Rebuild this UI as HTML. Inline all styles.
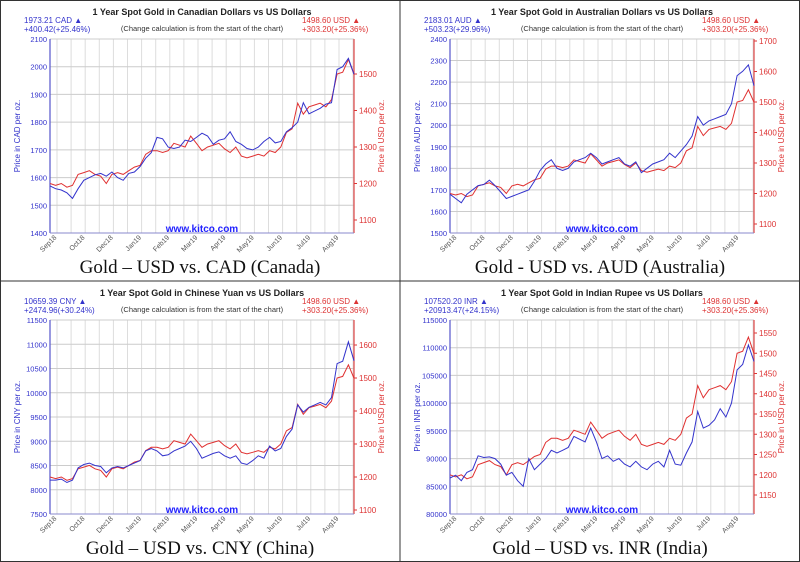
<!DOCTYPE html>
<html><head><meta charset="utf-8"><style>
body{margin:0;background:#fff}
svg{display:block}
.s{font-family:"Liberation Sans",sans-serif}
.cap{font-family:"Liberation Serif",serif}
</style></head><body>
<svg id="c" width="800" height="562" viewBox="0 0 800 562">
<rect x="0.5" y="0.5" width="799" height="561" fill="#fff" stroke="#333"/>
<line x1="400" y1="0" x2="400" y2="562" stroke="#333"/>
<line x1="0" y1="281" x2="800" y2="281" stroke="#333"/>
</svg>
<script>
const months = ["Sep18","Oct18","Dec18","Jan19","Feb19","Mar19","Apr19","May19","Jun19","Jul19","Aug19"];
const usd = [1200,1195,1200,1190,1195,1225,1230,1235,1225,1220,1200,1225,1230,1225,1235,1245,1250,1280,1290,1290,1285,1290,1310,1305,1300,1330,1310,1290,1300,1305,1310,1295,1285,1300,1275,1270,1275,1280,1275,1290,1285,1300,1340,1350,1420,1390,1410,1415,1420,1410,1430,1500,1505,1540,1499];
const cad = [1570,1560,1555,1545,1525,1560,1590,1600,1610,1615,1605,1620,1600,1590,1615,1620,1640,1670,1690,1745,1740,1710,1705,1710,1735,1730,1745,1760,1750,1720,1735,1740,1765,1730,1720,1705,1700,1710,1730,1745,1725,1730,1765,1780,1800,1870,1830,1840,1850,1865,1870,1990,2000,2030,1973];
const aud = [1680,1660,1640,1680,1700,1720,1725,1745,1720,1690,1660,1670,1680,1690,1700,1740,1790,1820,1840,1800,1790,1800,1830,1840,1850,1870,1850,1820,1830,1840,1850,1820,1810,1830,1780,1800,1820,1830,1840,1870,1850,1880,1910,1950,2040,2000,2020,2030,2040,2050,2100,2230,2250,2280,2183];
const cny = [8200,8200,8220,8150,8200,8450,8520,8550,8500,8480,8350,8450,8480,8450,8500,8550,8600,8800,8850,8800,8700,8720,8800,8850,8900,9000,8850,8650,8700,8750,8780,8700,8650,8700,8550,8520,8600,8700,8650,8900,8800,8850,9100,9250,9750,9600,9700,9750,9800,9750,9900,10600,10650,11050,10659];
const inr = [86500,87000,86000,87500,88000,90500,90200,90300,90000,89000,87000,87500,86000,85000,90000,88000,89000,90000,91500,91000,91500,92000,94000,93500,93000,95500,93000,90000,90500,89500,90000,89000,88500,89500,88500,88000,89000,89500,88500,91500,89000,88800,91000,93000,98500,95500,96000,97000,99000,97500,100000,106000,107000,110500,107520];
const cadTicks = [1400,1500,1600,1700,1800,1900,2000,2100];
const audTicks = [1500,1600,1700,1800,1900,2000,2100,2200,2300,2400];
const cnyTicks = [7500,8000,8500,9000,9500,10000,10500,11000,11500];
const inrTicks = [80000,85000,90000,95000,100000,105000,110000,115000];

const panels = [
 {ox:0,oy:0,code:"CAD",name:"Canadian Dollars",vals:cad,lt:cadTicks,lmin:1400,lmax:2100,rt:[1100,1200,1300,1400,1500],ra:[1100,220],rb:[1500,74],
  info1:"1973.21 CAD",info2:"+400.42(+25.46%)",cap:"Gold \u2013 USD vs. CAD (Canada)"},
 {ox:400,oy:0,code:"AUD",name:"Australian Dollars",vals:aud,lt:audTicks,lmin:1500,lmax:2400,rt:[1100,1200,1300,1400,1500,1600,1700],ra:[1100,224],rb:[1700,41],
  info1:"2183.01 AUD",info2:"+503.23(+29.96%)",cap:"Gold - USD vs. AUD (Australia)"},
 {ox:0,oy:281,code:"CNY",name:"Chinese Yuan",vals:cny,lt:cnyTicks,lmin:7500,lmax:11500,rt:[1100,1200,1300,1400,1500,1600],ra:[1100,229],rb:[1600,64],
  info1:"10659.39 CNY",info2:"+2474.96(+30.24%)",cap:"Gold \u2013 USD vs. CNY (China)"},
 {ox:400,oy:281,code:"INR",name:"Indian Rupee",vals:inr,lt:inrTicks,lmin:80000,lmax:115000,rt:[1150,1200,1250,1300,1350,1400,1450,1500,1550],ra:[1150,214],rb:[1550,52],
  info1:"107520.20 INR",info2:"+20913.47(+24.15%)",cap:"Gold \u2013 USD vs. INR (India)"}
];
const svg = document.getElementById('c');
const NS = "http://www.w3.org/2000/svg";
function mk(tag, attrs, parent, txt){
  const e = document.createElementNS(NS, tag);
  for (const k in attrs) e.setAttribute(k, attrs[k]);
  if (tag === 'text' && !attrs['class']) e.setAttribute('class','s');
  if (txt !== undefined) e.textContent = txt;
  parent.appendChild(e);
  return e;
}
panels.forEach(p=>{
  const g = mk('g',{},svg);
  
  
  const x0=p.ox+50, x1=p.ox+354, y0=p.oy+39, y1=p.oy+233;
  const xs = i => x0 + i/(p.vals.length-1)*(x1-x0);
  const yl = v => y1 - (v-p.lmin)/(p.lmax-p.lmin)*(y1-y0);
  const yr = v => p.oy + p.ra[1] + (v-p.ra[0])/(p.rb[0]-p.ra[0])*(p.rb[1]-p.ra[1]);
  const bg = mk('rect',{x:x0,y:y0,width:x1-x0,height:y1-y0,fill:'#fff'},g);
  
  
  for(let gx=x0+7; gx<x1; gx+=14.1){
    const l = mk('line',{x1:gx,y1:y0,x2:gx,y2:y1,stroke:'#ddd','stroke-width':1},g);
    
    
  }
  p.lt.forEach((t,k)=>{
    const y=yl(t);
    const l = mk('line',{x1:x0,y1:y,x2:x1,y2:y,stroke:'#ccc','stroke-width':1},g);
    
    
    const tx = mk('text',{x:x0-3,y:y+3,'font-size':7.5,fill:'#33c','text-anchor':'end'},g,t);
    
    
  });
  p.rt.forEach(t=>{
    const y=yr(t);
    const l = mk('line',{x1:x1,y1:y,x2:x1+3,y2:y,stroke:'#d33','stroke-width':1},g);
    
    
    const tx = mk('text',{x:x1+5,y:y+3,'font-size':8,fill:'#d33'},g,t);
    
    
  });
  months.forEach((m,k)=>{
    const tx0 = x0+7+k*28.2;
    const tx = mk('text',{x:tx0,y:y1+5,'font-size':7,fill:'#555','text-anchor':'end',transform:`rotate(-45 ${tx0} ${y1+5})`},g,m);
    
    
  });
  const la = mk('line',{x1:x0,y1:y0,x2:x0,y2:y1,stroke:'#55c','stroke-width':1.2},g);
  
  
  const ra = mk('line',{x1:x1,y1:y0,x2:x1,y2:y1,stroke:'#d44','stroke-width':1.2},g);
  
  
  const ba = mk('line',{x1:x0,y1:y1,x2:x1,y2:y1,stroke:'#88c','stroke-width':1},g);
  
  
  const rl = mk('polyline',{points:usd.map((v,i)=>xs(i).toFixed(1)+','+yr(v).toFixed(1)).join(' '),fill:'none',stroke:'#e03030','stroke-width':1},g);
  
  
  const bl = mk('polyline',{points:p.vals.map((v,i)=>xs(i).toFixed(1)+','+yl(v).toFixed(1)).join(' '),fill:'none',stroke:'#3333cc','stroke-width':1},g);
  
  
  const t1 = mk('text',{x:p.ox+202,y:p.oy+15,'font-size':9,'font-weight':'bold',fill:'#222','text-anchor':'middle'},g,`1 Year Spot Gold in ${p.name} vs US Dollars`);
  
  
  const t2 = mk('text',{x:p.ox+202,y:p.oy+31,'font-size':7.5,fill:'#333','text-anchor':'middle'},g,'(Change calculation is from the start of the chart)');
  
  
  const i1 = mk('text',{x:p.ox+24,y:p.oy+23,'font-size':8,fill:'#33c'},g,p.info1+' \u25B2');
  
  
  const i2 = mk('text',{x:p.ox+24,y:p.oy+32,'font-size':8,fill:'#33c'},g,p.info2);
  
  
  const i3 = mk('text',{x:p.ox+302,y:p.oy+23,'font-size':8,fill:'#d33'},g,'1498.60 USD \u25B2');
  
  
  const i4 = mk('text',{x:p.ox+302,y:p.oy+32,'font-size':8,fill:'#d33'},g,'+303.20(+25.36%)');
  
  
  const yt1 = mk('text',{x:0,y:0,'font-size':8,fill:'#33c','text-anchor':'middle',transform:`translate(${p.ox+20},${p.oy+136}) rotate(-90)`},g,`Price in ${p.code} per oz.`);
  
  
  const yt2 = mk('text',{x:0,y:0,'font-size':8,fill:'#d33','text-anchor':'middle',transform:`translate(${p.ox+384},${p.oy+136}) rotate(-90)`},g,'Price in USD per oz.');
  
  
  const kw = mk('text',{x:p.ox+202,y:p.oy+232,'font-size':10,'font-weight':'bold',fill:'#22f','text-anchor':'middle'},g,'www.kitco.com');
  
  
  const cp = mk('text',{x:p.ox+200,y:p.oy+273,'font-size':19,fill:'#111','text-anchor':'middle','class':'cap'},g,p.cap);
  
  
});
</script>
</body></html>
